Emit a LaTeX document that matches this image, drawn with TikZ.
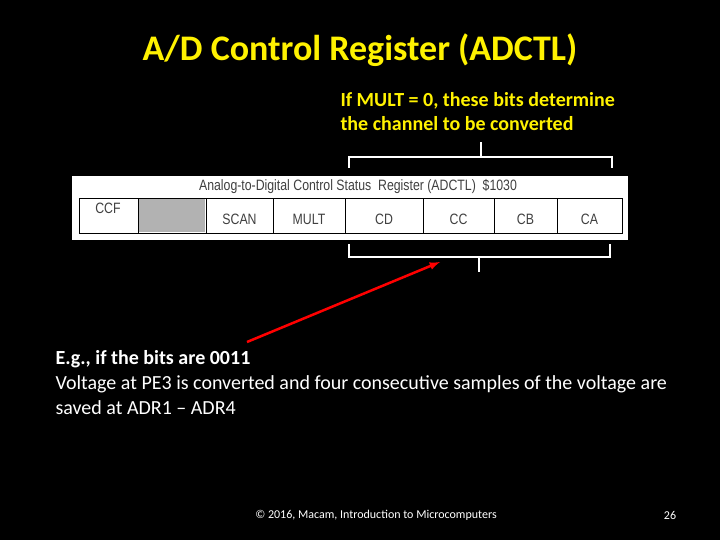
\documentclass[tikz,border=0pt]{standalone}
\usepackage{fontspec}
\setmainfont{Carlito}
\newfontfamily\regfont[FakeStretch=0.82]{Liberation Sans}
\begin{document}
\begin{tikzpicture}[x=1pt,y=-1pt,
  cell/.style={draw=black,line width=0.8pt,fill=white},
  lbl/.style={font=\regfont\fontsize{15}{16}\selectfont,text=black!75},
  brk/.style={draw=white,line width=1.5pt}]
\fill[black] (0,0) rectangle (720,540);
\useasboundingbox (0,0) rectangle (720,540);
\node[text=yellow,font=\bfseries\fontsize{36}{40}\selectfont] (title) at (360,50) {A/D Control Register (ADCTL)};
\node[text=yellow,font=\bfseries\fontsize{20}{24}\selectfont,align=left,anchor=west] (note) at (337,112) {If MULT = 0, these bits determine\\the channel to be converted};
\fill[white] (72,176) rectangle (628,240);
\node[lbl] (hdr) at (358,187) {Analog-to-Digital Control Status\ \ Register (ADCTL)\ \ \$1030};
\foreach \a/\b/\t [count=\i] in {79/138/,138/206/,206/273/SCAN,273/345/MULT,345/423/CD,423/494/CC,494/557/CB,557/622/CA}{
  \draw[cell] (\a,198) rectangle (\b,233);
  \node[lbl] (c\i) at ({(\a+\b)/2},219) {\t};
}
\fill[black!30] (139,199) rectangle (205,232);
\node[lbl] (ccf) at (108,208) {CCF};
\draw[brk] (349,168) -- (349,157) -- (612,157) -- (612,168);
\draw[brk] (481,157) -- (481,142);
\draw[brk] (349,244) -- (349,257) -- (610,257) -- (610,244);
\draw[brk] (479,257) -- (479,272);
\coordinate (s) at (247,342);
\coordinate (e) at (440,262);
\draw[red,line width=2.5pt,-latex] (s) -- (e);
\node[text=white,font=\fontsize{20}{25}\selectfont,align=left,anchor=west] (body) at (52,383) {\textbf{E.g., if the bits are 0011}\\Voltage at PE3 is converted and four consecutive samples of the voltage are\\saved at ADR1 -- ADR4};
\node[text=white,font=\fontsize{12}{14}\selectfont] (foot) at (376,515) {© 2016, Macam, Introduction to Microcomputers};
\node[text=white,font=\fontsize{12}{14}\selectfont] (pg) at (670,515) {26};
\end{tikzpicture}
\end{document}
